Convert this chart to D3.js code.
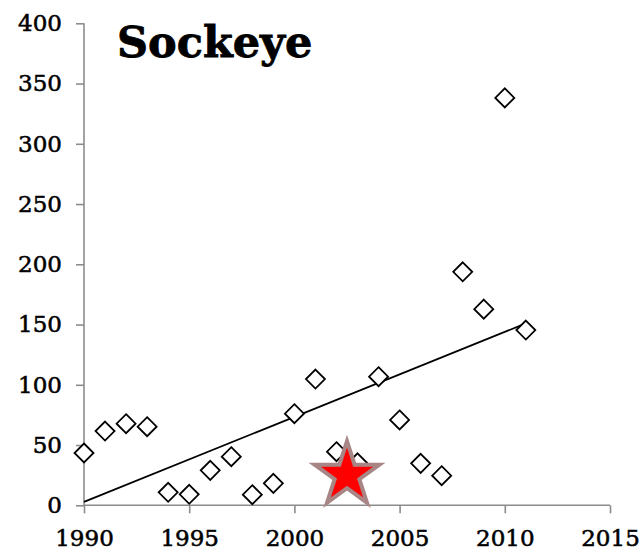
<!DOCTYPE html>
<html>
<head>
<meta charset="utf-8">
<script src="https://cdn.jsdelivr.net/npm/d3@7"></script>
<style>
  html, body { margin: 0; padding: 0; background: #fff; }
  svg { display: block; }
</style>
</head>
<body>
<svg id="chart" width="643" height="551"></svg>
<script>
// ---- data ----
const title = "Sockeye";
const years = [1990, 1991, 1992, 1993, 1994, 1995, 1996, 1997, 1998, 1999, 2000,
               2001, 2002, 2003, 2004, 2005, 2006, 2007, 2008, 2009, 2010, 2011];
const values = [43.4, 61.6, 67.7, 65.2, 10.8, 9.1, 29.0, 40.3, 8.8, 18.2, 76.0,
                104.8, 44.5, 35.3, 106.7, 70.8, 34.8, 24.6, 193.8, 162.8, 338.1, 145.4];
const starPoint = { year: 2002.5, value: 25 };
const xTicks = [1990, 1995, 2000, 2005, 2010, 2015];
const yTicks = [0, 50, 100, 150, 200, 250, 300, 350, 400];

// ---- layout ----
const svg = d3.select("#chart");
const mLeft = 84, mRight = 610, mTop = 23.3, mBottom = 505.3;
const x = d3.scaleLinear().domain([1990, 2015]).range([mLeft, mRight]);
const y = d3.scaleLinear().domain([0, 400]).range([mBottom, mTop]);
const font = "'DejaVu Serif', serif";
const axisColor = "#8c8c8c";

// y axis
const yAxis = svg.append("g").attr("transform", `translate(${mLeft},0)`)
  .call(d3.axisLeft(y).tickValues(yTicks).tickSize(8).tickPadding(14).tickFormat(d3.format("d")));
// x axis
const xAxis = svg.append("g").attr("transform", `translate(0,${mBottom})`)
  .call(d3.axisBottom(x).tickValues(xTicks).tickSize(8).tickPadding(16).tickFormat(d3.format("d")));

[yAxis, xAxis].forEach(g => {
  g.select(".domain").attr("stroke", axisColor).attr("stroke-width", 1.6);
  g.selectAll(".tick line").attr("stroke", axisColor).attr("stroke-width", 1.6);
  g.selectAll(".tick text").attr("fill", "#000")
    .attr("stroke", "#000").attr("stroke-width", 0.55)
    .style("font-family", font).style("font-size", "23px");
});
yAxis.select(".domain").attr("d", `M0,${mBottom}V${mTop}`);
xAxis.select(".domain").attr("d", `M${mLeft},0H${mRight}`);

// regression trend line
const mx = d3.mean(years), my = d3.mean(values);
const slope = d3.sum(years, (v, i) => (v - mx) * (values[i] - my)) / d3.sum(years, v => (v - mx) ** 2);
const icpt = my - slope * mx;
const x0 = d3.min(years), x1 = d3.max(years);
svg.append("line")
  .attr("x1", x(x0)).attr("y1", y(icpt + slope * x0))
  .attr("x2", x(x1)).attr("y2", y(icpt + slope * x1))
  .attr("stroke", "#000").attr("stroke-width", 1.8);

// diamonds
const dsize = 9.5;
svg.append("g").selectAll("path").data(years).join("path")
  .attr("d", `M0,${-dsize}L${dsize},0L0,${dsize}L${-dsize},0Z`)
  .attr("transform", (d, i) => `translate(${x(d)},${y(values[i])})`)
  .attr("fill", "#fff").attr("stroke", "#000").attr("stroke-width", 1.8);

// star
const R = 34, r = R * 0.382;
const starPts = [];
for (let k = 0; k < 10; k++) {
  const ang = -Math.PI / 2 + k * Math.PI / 5;
  const rad = k % 2 === 0 ? R : r;
  starPts.push([rad * Math.cos(ang), rad * Math.sin(ang)]);
}
svg.append("path")
  .attr("d", d3.line()(starPts) + "Z")
  .attr("transform", `translate(${x(starPoint.year)},${y(starPoint.value)})`)
  .attr("fill", "#ff0000").attr("stroke", "#a98686").attr("stroke-width", 4)
  .attr("stroke-linejoin", "miter");

// title
svg.append("text").attr("x", 117).attr("y", 57)
  .style("font-family", font).style("font-weight", "bold").style("font-size", "43px")
  .attr("stroke", "#000").attr("stroke-width", 0.8)
  .attr("fill", "#000").text(title);
</script>
</body>
</html>
